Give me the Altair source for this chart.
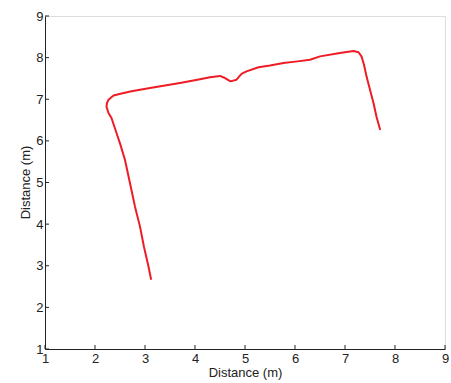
import altair as alt
import pandas as pd

# Path (in metres), in drawing order
path_x = [3.12, 3.07, 2.98, 2.90, 2.80, 2.70, 2.60, 2.50, 2.43, 2.33, 2.27, 2.23, 2.24, 2.27,
          2.37, 2.53, 2.73, 3.10, 3.70, 4.10, 4.30, 4.50, 4.60, 4.71, 4.83, 4.93, 5.03, 5.27,
          5.50, 5.77, 6.05, 6.30, 6.50, 6.90, 7.17, 7.27, 7.33, 7.38, 7.43, 7.50, 7.57, 7.63, 7.70]
path_y = [2.68, 2.98, 3.45, 3.94, 4.42, 4.98, 5.54, 5.94, 6.19, 6.55, 6.67, 6.82, 6.91, 6.99,
          7.09, 7.14, 7.19, 7.27, 7.39, 7.48, 7.53, 7.56, 7.51, 7.43, 7.47, 7.61, 7.67, 7.77,
          7.81, 7.87, 7.91, 7.95, 8.03, 8.11, 8.16, 8.13, 8.03, 7.83, 7.55, 7.23, 6.91, 6.58, 6.28]

ticks = [1, 2, 3, 4, 5, 6, 7, 8, 9]

df = pd.DataFrame({"x": path_x, "y": path_y, "order": list(range(len(path_x)))})
tick_df = pd.DataFrame({"t": ticks})

FONT = "Liberation Sans"
xscale = alt.Scale(domain=[1, 9], nice=False, zero=False)
yscale = alt.Scale(domain=[1, 9], nice=False, zero=False)

line = alt.Chart(df).mark_line(color="#ee1c25", strokeWidth=2, strokeCap="round", strokeJoin="round").encode(
    x=alt.X("x:Q", scale=xscale,
            axis=alt.Axis(title="Distance (m)", values=ticks, tickSize=0, labelPadding=3,
                          grid=False, domainColor="#222222", labelColor="#222222",
                          titleColor="#222222", labelFontSize=13, titleFontSize=13,
                          labelFont=FONT, titleFont=FONT, titleFontWeight="normal",
                          titleX=200, titleY=27, titleBaseline="alphabetic",
                          labelFlush=False, labelOverlap=False)),
    y=alt.Y("y:Q", scale=yscale,
            axis=alt.Axis(title="Distance (m)", values=ticks, tickSize=0, labelPadding=2,
                          grid=False, domainColor="#222222", labelColor="#222222",
                          titleColor="#222222", labelFontSize=13, titleFontSize=13,
                          labelFont=FONT, titleFont=FONT, titleFontWeight="normal",
                          titleX=-16, titleY=166, titleAngle=-90, titleAlign="center",
                          titleBaseline="alphabetic",
                          labelFlush=False, labelOverlap=False)),
    order="order:Q",
)

xticks = alt.Chart(tick_df).mark_rule(color="#222222", strokeWidth=1).encode(
    x=alt.X("t:Q", scale=xscale),
    y=alt.value(333),
    y2=alt.value(329),
)
yticks = alt.Chart(tick_df).mark_rule(color="#222222", strokeWidth=1).encode(
    y=alt.Y("t:Q", scale=yscale),
    x=alt.value(0),
    x2=alt.value(4),
)

chart = alt.layer(line, xticks, yticks).properties(
    width=400, height=333,
    autosize=alt.AutoSizeParams(type="none"),
    padding={"left": 45, "top": 16, "right": 6, "bottom": 34},
).configure_view(stroke=None).configure(background="white")

chart.save("out.html", embed_options={"renderer": "svg", "actions": False})
